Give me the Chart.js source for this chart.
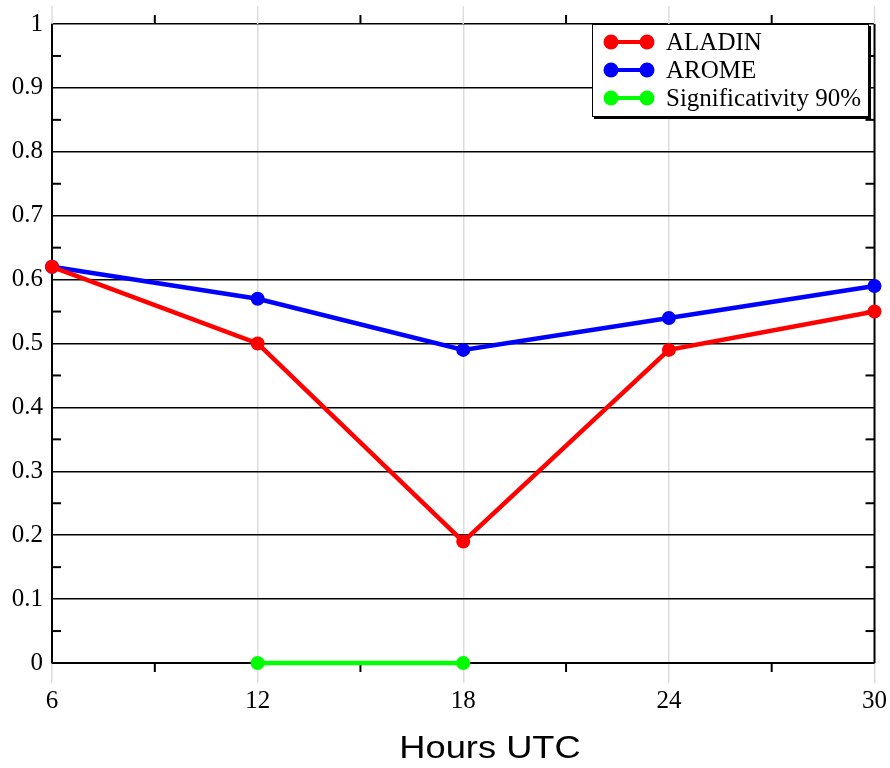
<!DOCTYPE html>
<html>
<head>
<meta charset="utf-8">
<script src="https://cdn.jsdelivr.net/npm/chart.js@4.4.1/dist/chart.umd.min.js"></script>
<style>
  html, body { margin: 0; padding: 0; background: #fff; }
  #wrap { position: relative; width: 890px; height: 768px; }
  #legend {
    position: absolute; left: 592px; top: 24px; width: 277px; height: 93px;
    border: 1px solid #000; box-shadow: 2px 2px 0 #000; background: #fff;
    font-family: "Liberation Serif", "Times New Roman", serif; font-size: 25px; color: #000;
    box-sizing: border-box;
  }
  .row { position: absolute; left: 0; height: 28px; display: flex; align-items: center; white-space: nowrap; }
  .row svg { margin-left: 10px; }
  .row span { margin-left: 11px; }
  #xtitle {
    position: absolute; left: 290px; width: 400px; top: 728px; text-align: center;
    font-family: "Liberation Sans", Arial, sans-serif; font-size: 31px; color: #000; line-height: 40px;
    transform: scaleX(1.17);
  }
</style>
</head>
<body>
<div id="wrap">
  <canvas id="c" width="890" height="768"></canvas>
  <div id="legend"></div>
  <div id="xtitle">Hours UTC</div>
</div>
<script>
// ---- data ----
const hours = [6, 12, 18, 24, 30];
const aladin = [0.62, 0.50, 0.19, 0.49, 0.55];
const arome = [0.62, 0.57, 0.49, 0.54, 0.59];
const signifHours = [12, 18];
const signif = [0, 0];
const seriesNames = ["ALADIN", "AROME", "Significativity 90%"];
const seriesColors = ["#ff0000", "#0000ff", "#00ff00"];
const xMinorTicks = [9, 15, 21, 27];
const yMinorTicks = [0.05, 0.15, 0.25, 0.35, 0.45, 0.55, 0.65, 0.75, 0.85, 0.95];

const toXY = (xs, ys) => xs.map((x, i) => ({ x: x, y: ys[i] }));

function ds(label, data, color) {
  return {
    label: label, data: data, borderColor: color, backgroundColor: color,
    borderWidth: 4.5, pointRadius: 7, pointHoverRadius: 7, pointBorderWidth: 0,
    tension: 0, clip: false
  };
}

const framePlugin = {
  id: 'frame',
  beforeDatasetsDraw(chart) {
    const ctx = chart.ctx;
    const xs = chart.scales.x, ys = chart.scales.y;
    const a = chart.chartArea;
    ctx.save();
    ctx.strokeStyle = '#dddddd';
    ctx.lineWidth = 1.5;
    hours.forEach(h => {
      const px = xs.getPixelForValue(h);
      ctx.beginPath(); ctx.moveTo(px, a.top - 18); ctx.lineTo(px, a.top); ctx.stroke();
    });
    ctx.strokeStyle = '#000';
    ctx.lineWidth = 2;
    ctx.beginPath(); ctx.moveTo(a.right, a.top); ctx.lineTo(a.right, a.bottom); ctx.stroke();
    ctx.beginPath(); ctx.moveTo(a.left, a.bottom); ctx.lineTo(a.right, a.bottom); ctx.stroke();
    xMinorTicks.forEach(h => {
      const px = xs.getPixelForValue(h);
      ctx.beginPath(); ctx.moveTo(px, a.bottom); ctx.lineTo(px, a.bottom + 9); ctx.stroke();
      ctx.beginPath(); ctx.moveTo(px, a.top); ctx.lineTo(px, a.top - 9); ctx.stroke();
    });
    yMinorTicks.forEach(v => {
      const py = ys.getPixelForValue(v);
      ctx.beginPath(); ctx.moveTo(a.left, py); ctx.lineTo(a.left + 9, py); ctx.stroke();
      ctx.beginPath(); ctx.moveTo(a.right, py); ctx.lineTo(a.right - 9, py); ctx.stroke();
    });
    ctx.restore();
  }
};

const serif = "'Liberation Serif', 'Times New Roman', serif";

new Chart(document.getElementById('c'), {
  type: 'line',
  data: {
    datasets: [
      ds(seriesNames[0], toXY(hours, aladin), seriesColors[0]),
      ds(seriesNames[1], toXY(hours, arome), seriesColors[1]),
      ds(seriesNames[2], toXY(signifHours, signif), seriesColors[2])
    ]
  },
  options: {
    responsive: false,
    animation: false,
    events: [],
    layout: { padding: { left: 0, right: 14, top: 23, bottom: 60 } },
    plugins: { legend: { display: false }, tooltip: { enabled: false } },
    scales: {
      x: {
        type: 'linear', position: 'bottom', min: 6, max: 30,
        afterFit(s) { s.height = 45; },
        ticks: { stepSize: 6, color: '#000', font: { family: serif, size: 25 }, padding: 3 },
        grid: { color: '#dddddd', lineWidth: 1.5, tickLength: 20, drawOnChartArea: true },
        border: { display: false }
      },
      y: {
        min: 0, max: 1,
        afterFit(s) { s.width = 52; },
        ticks: { stepSize: 0.1, color: '#000', font: { family: serif, size: 25 }, padding: 9,
                 callback: v => Math.round(v * 10) / 10 + '' },
        grid: { color: '#000', lineWidth: 1.5, drawTicks: false },
        border: { display: true, color: '#000', width: 2 }
      }
    }
  },
  plugins: [framePlugin]
});

const leg = document.getElementById('legend');
seriesNames.forEach((name, i) => {
  const row = document.createElement('div');
  row.className = 'row';
  row.style.top = (3 + i * 28) + 'px';
  const c = seriesColors[i];
  row.innerHTML = '<svg width="52" height="18" viewBox="0 0 52 18">' +
    '<line x1="8" y1="9" x2="44" y2="9" stroke="' + c + '" stroke-width="4"/>' +
    '<circle cx="8" cy="9" r="7.5" fill="' + c + '"/>' +
    '<circle cx="44" cy="9" r="7.5" fill="' + c + '"/></svg>' +
    '<span>' + name + '</span>';
  leg.appendChild(row);
});
</script>
</body>
</html>
